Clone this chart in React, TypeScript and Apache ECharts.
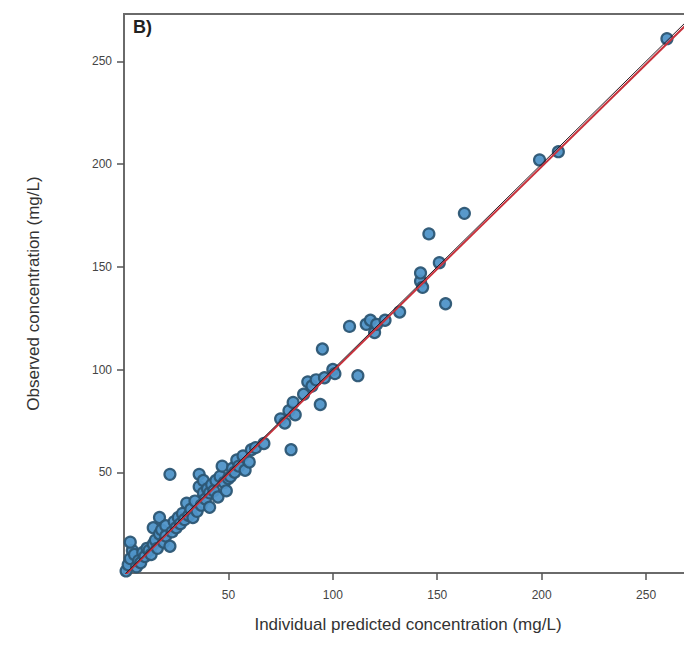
import React, { useEffect, useRef } from "react";
import * as echarts from "echarts";

// Individual predicted vs observed concentrations (mg/L)
const predicted: number[] = [
  1, 2, 3, 4, 3, 5, 6, 7, 8, 9, 10, 11, 12, 13, 14, 14, 15, 16, 17, 17, 18, 19, 20, 20, 22, 22,
  23, 24, 25, 26, 27, 28, 29, 30, 31, 32, 33, 34, 35, 36, 36, 37, 38, 38, 39, 40, 41, 41, 42, 43,
  44, 45, 46, 47, 48, 49, 50, 51, 52, 53, 54, 55, 57, 58, 60, 61, 63, 67, 75, 77, 79, 80, 81, 82,
  86, 88, 90, 92, 94, 95, 96, 100, 101, 108, 112, 116, 118, 120, 121, 125, 132, 142, 143, 142,
  146, 151, 154, 163, 199, 208, 260,
];
const observed: number[] = [
  2, 5, 8, 12, 16, 10, 4, 7, 6, 11, 9, 13, 12, 10, 15, 23, 17, 13, 20, 28, 22, 16, 24, 19, 14, 49,
  21, 26, 23, 28, 25, 30, 27, 35, 29, 32, 28, 36, 31, 43, 49, 34, 46, 40, 37, 42, 33, 40, 44, 41,
  46, 38, 48, 53, 45, 41, 47, 48, 52, 50, 56, 53, 58, 51, 55, 61, 62, 64, 76, 74, 80, 61, 84, 78,
  88, 94, 92, 95, 83, 110, 96, 100, 98, 121, 97, 122, 124, 118, 122, 124, 128, 143, 140, 147,
  166, 152, 132, 176, 202, 206, 261,
];
const tickValues: number[] = [50, 100, 150, 200, 250];
const identityLine: number[][] = [[0, 0], [272, 272]];
const fitLine: number[][] = [[0, -0.5], [272, 270.5]];

export default function App() {
  const ref = useRef<HTMLDivElement>(null);

  useEffect(() => {
    if (!ref.current) return;
    const chart = echarts.init(ref.current, null, { renderer: "svg" });
    const points = predicted.map((x, i) => [x, observed[i]]);
    const font = "Liberation Sans, Arial, sans-serif";

    chart.setOption({
      animation: false,
      backgroundColor: "#ffffff",
      grid: {
        left: 124,
        top: 14,
        right: 0,
        bottom: 95,
        show: true,
        borderColor: "#6a6a6a",
        borderWidth: 2,
        backgroundColor: "transparent",
      },
      xAxis: {
        type: "value",
        min: 0,
        max: 272,
        name: "Individual predicted concentration (mg/L)",
        nameLocation: "middle",
        nameGap: 43,
        nameTextStyle: { fontFamily: font, fontSize: 17, color: "#333" },
        splitLine: { show: false },
        axisLine: { show: false },
        axisTick: {
          show: true,
          inside: false,
          length: 7,
          customValues: tickValues,
          lineStyle: { color: "#555", width: 1.5 },
        },
        axisLabel: {
          customValues: tickValues,
          margin: 16,
          fontFamily: font,
          fontSize: 12,
          color: "#444",
        },
      },
      yAxis: {
        type: "value",
        min: 1,
        max: 273,
        name: "Observed concentration (mg/L)",
        nameLocation: "middle",
        nameGap: 82,
        nameRotate: 90,
        nameTextStyle: { fontFamily: font, fontSize: 17, color: "#333" },
        splitLine: { show: false },
        axisLine: { show: false },
        axisTick: {
          show: true,
          inside: false,
          length: 7,
          customValues: tickValues,
          lineStyle: { color: "#555", width: 1.5 },
        },
        axisLabel: {
          customValues: tickValues,
          margin: 12,
          fontFamily: font,
          fontSize: 12,
          color: "#444",
        },
      },
      graphic: [
        {
          type: "text",
          left: 133,
          top: 18,
          style: {
            text: "B)",
            fontFamily: font,
            fontSize: 18,
            fontWeight: "bold",
            fill: "#222",
          },
        },
      ],
      series: [
        {
          type: "scatter",
          data: points,
          symbol: "circle",
          symbolSize: 11,
          itemStyle: {
            color: "#4f94c8",
            borderColor: "#2c5674",
            borderWidth: 2.2,
            opacity: 0.95,
          },
          z: 2,
        },
        {
          type: "line",
          data: fitLine,
          symbol: "none",
          lineStyle: { color: "#c8323c", width: 2 },
          z: 3,
        },
        {
          type: "line",
          data: identityLine,
          symbol: "none",
          lineStyle: { color: "#2a1a22", width: 1 },
          z: 4,
        },
      ],
    });

    return () => chart.dispose();
  }, []);

  // The plot frame runs past the right edge of the visible area
  return (
    <div
      style={{
        position: "absolute",
        left: 0,
        top: 0,
        width: 684,
        height: 668,
        overflow: "hidden",
      }}
    >
      <div ref={ref} style={{ width: 692, height: 668 }} />
    </div>
  );
}
